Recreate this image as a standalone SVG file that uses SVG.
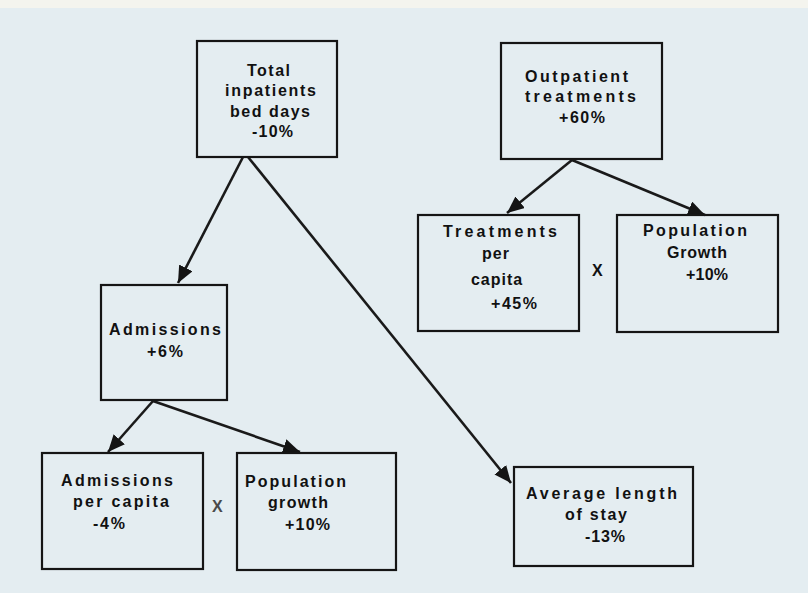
<svg xmlns="http://www.w3.org/2000/svg" width="808" height="593" viewBox="0 0 808 593">
  <defs>
    <marker id="head" markerUnits="userSpaceOnUse" markerWidth="20" markerHeight="16" refX="17" refY="7.5" orient="auto">
      <path d="M0,0 L17,7.5 L0,15 Z" fill="#141414"/>
    </marker>
    <style>
      .box { fill: none; stroke: #151515; stroke-width: 2.2; }
      .lbl { font-family: "Liberation Sans", Arial, sans-serif; font-weight: bold; font-size: 16px; fill: #111; }
      .mid { text-anchor: middle; letter-spacing: 1px; }
      .edge { stroke: #1a1a1a; stroke-width: 2.6; fill: none; marker-end: url(#head); }
    </style>
  </defs>

  <!-- paper -->
  <rect x="0" y="0" width="808" height="593" fill="#e4edf1"/>
  <rect x="0" y="0" width="808" height="8" fill="#f4f4ee"/>

  <!-- connectors -->
  <g id="connectors">
    <line class="edge" x1="243" y1="157" x2="178" y2="283"/>
    <line class="edge" x1="248" y1="157" x2="511" y2="483"/>
    <line class="edge" x1="572" y1="160" x2="507" y2="213"/>
    <line class="edge" x1="572" y1="160" x2="705" y2="215"/>
    <line class="edge" x1="153" y1="401" x2="108" y2="452"/>
    <line class="edge" x1="153" y1="401" x2="300" y2="452"/>
  </g>

  <g id="total-inpatients">
    <rect class="box" x="197" y="41" width="140" height="116"/>
    <text class="lbl" x="247" y="76" textLength="43" lengthAdjust="spacing">Total</text>
    <text class="lbl" x="225" y="96" textLength="91" lengthAdjust="spacing">inpatients</text>
    <text class="lbl" x="230" y="117" textLength="80" lengthAdjust="spacing">bed days</text>
    <text class="lbl" x="252" y="137" textLength="41" lengthAdjust="spacing">-10%</text>
  </g>

  <g id="outpatient-treatments">
    <rect class="box" x="501" y="43" width="161" height="116"/>
    <text class="lbl" x="525" y="82" textLength="103" lengthAdjust="spacing">Outpatient</text>
    <text class="lbl" x="525" y="102" textLength="111" lengthAdjust="spacing">treatments</text>
    <text class="lbl" x="559" y="123" textLength="46" lengthAdjust="spacing">+60%</text>
  </g>

  <g id="treatments-per-capita">
    <rect class="box" x="418" y="215" width="161" height="116"/>
    <text class="lbl" x="443" y="237" textLength="114" lengthAdjust="spacing">Treatments</text>
    <text class="lbl mid" x="496" y="259">per</text>
    <text class="lbl mid" x="497" y="285">capita</text>
    <text class="lbl" x="491" y="309" textLength="46" lengthAdjust="spacing">+45%</text>
  </g>

  <text class="lbl" x="592" y="276">X</text>

  <g id="population-growth-out">
    <rect class="box" x="617" y="215" width="161" height="117"/>
    <text class="lbl" x="643" y="236" textLength="104" lengthAdjust="spacing">Population</text>
    <text class="lbl" x="667" y="258" textLength="60" lengthAdjust="spacing">Growth</text>
    <text class="lbl" x="686" y="280" textLength="42" lengthAdjust="spacing">+10%</text>
  </g>

  <g id="admissions">
    <rect class="box" x="101" y="285" width="126" height="115"/>
    <text class="lbl" x="109" y="335" textLength="112" lengthAdjust="spacing">Admissions</text>
    <text class="lbl" x="147" y="357" textLength="36" lengthAdjust="spacing">+6%</text>
  </g>

  <g id="admissions-per-capita">
    <rect class="box" x="42" y="453" width="161" height="116"/>
    <text class="lbl" x="61" y="486" textLength="112" lengthAdjust="spacing">Admissions</text>
    <text class="lbl" x="73" y="507" textLength="96" lengthAdjust="spacing">per capita</text>
    <text class="lbl" x="93" y="529" textLength="32" lengthAdjust="spacing">-4%</text>
  </g>

  <text class="lbl" x="212" y="512" style="fill:#4a4a4a">X</text>

  <g id="population-growth-in">
    <rect class="box" x="237" y="453" width="159" height="117"/>
    <text class="lbl" x="245" y="487" textLength="101" lengthAdjust="spacing">Population</text>
    <text class="lbl" x="268" y="508" textLength="60" lengthAdjust="spacing">growth</text>
    <text class="lbl" x="285" y="530" textLength="45" lengthAdjust="spacing">+10%</text>
  </g>

  <g id="average-length-of-stay">
    <rect class="box" x="514" y="467" width="179" height="99"/>
    <text class="lbl" x="526" y="499" textLength="151" lengthAdjust="spacing">Average  length</text>
    <text class="lbl" x="565" y="520" textLength="62" lengthAdjust="spacing">of stay</text>
    <text class="lbl" x="585" y="542" textLength="40" lengthAdjust="spacing">-13%</text>
  </g>
</svg>
